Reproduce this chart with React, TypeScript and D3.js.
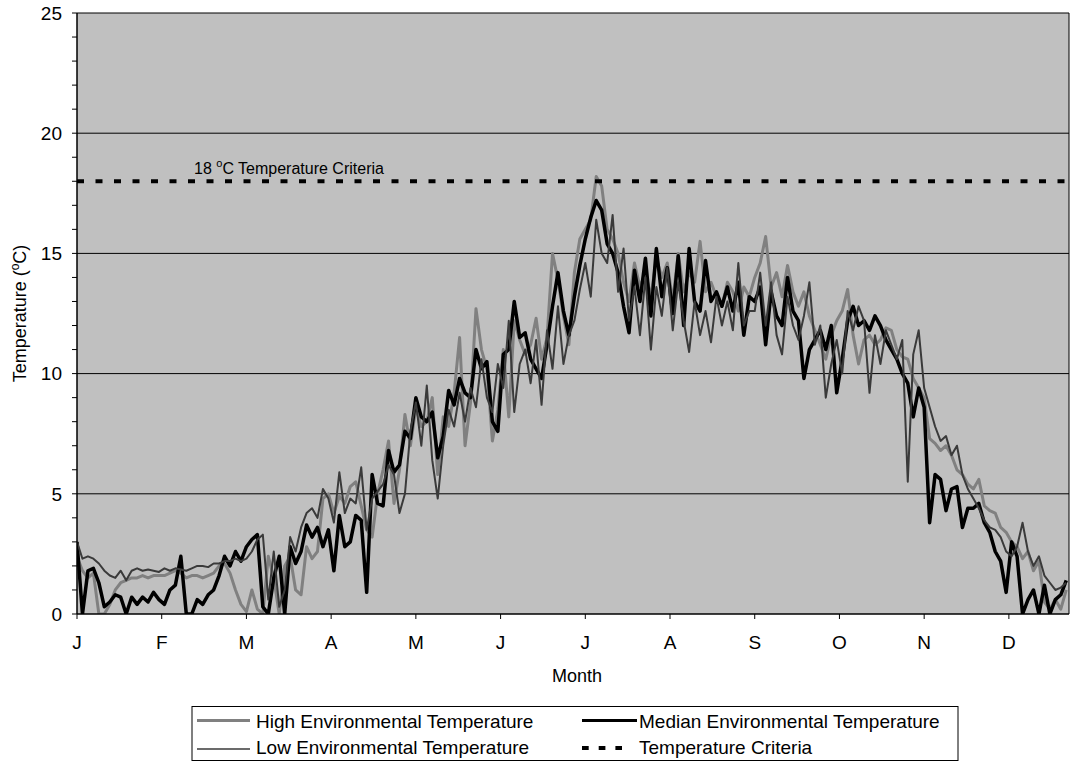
import React from "react";
import * as d3 from "d3";

// ---- Data (every 2nd day through the year) ----
const months = ["J", "F", "M", "A", "M", "J", "J", "A", "S", "O", "N", "D"];
const monthStartDays = [0, 31, 62, 93, 124, 155, 186, 217, 248, 279, 310, 341];
const yMajorTicks = [0, 5, 10, 15, 20, 25];
const yGridValues = [5, 10, 15, 20];
const criteriaValue = 18;
const stepDays = 2;

const highTemp = [
  2.4, 1.8, 1.5, 1.7, 0.0, 0.0, 0.4, 1.0, 1.3, 1.4, 1.5, 1.5, 1.6, 1.5, 1.6, 1.6,
  1.6, 1.7, 1.8, 1.7, 1.5, 1.6, 1.6, 1.5, 1.6, 1.7, 2.0, 2.1, 1.7, 1.0, 0.4,
  0.1, 1.0, 0.2, 0.0, 2.4, 1.5, 0.0, 2.0, 2.4, 1.0, 0.8, 2.8, 2.3, 2.6, 4.8, 5.0,
  4.2, 4.9, 4.6, 5.3, 5.5, 4.5, 3.5, 3.2, 5.0, 6.0, 7.2, 4.6, 6.0, 8.3, 7.0, 8.6,
  7.8, 8.0, 9.0, 5.8, 8.2, 7.8, 9.2, 11.5, 7.0, 8.8, 12.7, 11.0, 10.2, 7.2, 8.5, 11.0,
  8.2, 12.2, 11.4, 10.8, 11.2, 12.3, 10.6, 11.5, 15.0, 13.9, 12.4, 11.2, 14.2, 15.6, 16.0,
  16.4, 18.2, 17.8, 16.0, 15.6, 15.0, 13.8, 13.0, 14.6, 13.6, 14.2, 13.2, 14.8, 14.0, 14.6,
  13.0, 15.0, 13.4, 14.2, 13.8, 15.5, 13.4, 13.8, 13.2, 12.8, 13.8, 13.4, 12.6, 13.6, 13.2, 14.0,
  14.6, 15.7, 13.6, 14.2, 13.2, 14.5, 13.4, 12.8, 13.4, 12.4, 11.8, 11.2, 10.6, 11.6, 12.2, 12.6,
  13.5, 11.6, 10.4, 11.4, 11.6, 11.2, 11.4, 11.9, 11.8, 11.0, 10.7, 10.6, 9.8, 9.4, 9.0, 7.3,
  7.1, 6.8, 7.0, 6.6, 6.0, 5.8, 5.4, 5.2, 5.6, 4.5, 4.3, 4.2, 3.6, 3.4, 3.0, 2.8,
  2.3, 2.6, 1.8, 2.2, 0.5, 0.2, 0.6, 0.2, 1.0,
];

const medianTemp = [
  3.0, 0.0, 1.8, 1.9, 1.3, 0.3, 0.5, 0.8, 0.7, 0.0, 0.7, 0.4, 0.7, 0.5, 0.9, 0.6,
  0.4, 1.0, 1.2, 2.4, 0.0, 0.0, 0.6, 0.4, 0.8, 1.0, 1.6, 2.4, 2.0, 2.6, 2.2,
  2.8, 3.1, 3.3, 0.3, 0.0, 1.5, 2.4, 0.0, 2.8, 2.1, 2.6, 3.7, 3.2, 3.6, 2.8, 3.5,
  1.8, 4.1, 2.8, 3.0, 4.1, 3.9, 0.9, 5.8, 4.6, 4.5, 6.8, 5.9, 6.2, 7.6, 7.3, 9.0,
  8.2, 8.0, 8.4, 6.5, 7.4, 9.3, 8.7, 9.8, 9.2, 9.0, 11.0, 10.2, 10.5, 8.0, 7.6, 10.8,
  11.0, 13.0, 11.5, 11.7, 10.6, 10.2, 9.8, 11.2, 12.8, 14.2, 12.6, 11.6, 13.2, 14.5, 15.6,
  16.5, 17.2, 16.8, 15.4, 15.0, 14.2, 12.8, 11.7, 14.3, 13.0, 14.8, 12.4, 15.2, 13.2, 14.4,
  12.5, 14.9, 12.0, 15.2, 13.0, 12.6, 14.7, 13.0, 13.4, 12.8, 13.6, 12.6, 13.8, 11.6, 13.2, 13.0,
  13.6, 11.2, 13.4, 12.4, 12.0, 14.0, 12.6, 12.2, 9.8, 11.0, 11.4, 11.8, 11.0, 12.0, 9.2, 10.6,
  12.2, 12.8, 12.0, 12.2, 11.8, 12.4, 12.0, 11.4, 11.0, 10.6, 10.0, 9.6, 8.2, 9.4, 8.6, 3.8,
  5.8, 5.6, 4.3, 5.2, 5.3, 3.6, 4.4, 4.4, 4.6, 3.8, 3.4, 2.6, 2.2, 0.9, 3.0, 2.4,
  0.0, 0.6, 1.0, 0.0, 1.2, 0.0, 0.6, 0.8, 1.4,
];

const lowTemp = [
  3.0, 2.3, 2.4, 2.3, 2.1, 1.8, 1.6, 1.5, 1.8, 1.4, 1.8, 1.9, 1.8, 1.85, 1.8, 1.75,
  1.9, 1.8, 1.9, 1.85, 1.8, 1.9, 2.0, 2.0, 1.95, 2.1, 2.1, 2.2, 2.2, 2.3, 2.2,
  2.3, 2.6, 3.1, 3.3, 0.6, 2.6, 0.3, 1.0, 3.2, 2.6, 3.6, 4.2, 4.4, 4.0, 5.2, 4.8,
  3.8, 5.9, 4.2, 4.8, 4.6, 6.1, 3.5, 4.8, 5.1, 5.4, 6.2, 5.8, 4.2, 5.0, 7.6, 8.8,
  7.0, 9.5, 6.4, 4.8, 7.0, 8.5, 7.8, 9.2, 8.0, 9.4, 8.6, 10.6, 9.0, 8.4, 10.4, 9.4,
  12.2, 8.4, 10.4, 11.0, 9.6, 11.4, 8.7, 11.8, 10.2, 12.8, 10.4, 11.6, 12.2, 13.5, 14.6,
  13.2, 16.4, 15.0, 14.6, 16.6, 13.4, 15.2, 12.2, 13.6, 11.6, 14.0, 11.0, 13.6, 12.4, 14.4,
  11.8, 13.8, 12.2, 10.9, 13.0, 11.6, 12.6, 11.3, 13.2, 12.0, 13.0, 11.8, 14.6, 12.0, 12.6, 12.6,
  14.2, 12.0, 13.8, 11.6, 10.8, 13.2, 12.0, 11.4, 12.4, 13.8, 11.2, 12.0, 9.0, 10.4, 11.4, 10.0,
  12.6, 11.8, 12.8, 12.2, 9.2, 11.6, 10.4, 11.8, 11.2, 10.6, 11.4, 5.5, 10.8, 11.8, 9.4, 8.6,
  7.8, 7.2, 7.4, 6.6, 7.0, 5.8, 5.2, 4.8, 4.4, 3.9, 3.6, 3.5, 3.2, 2.6, 2.4, 2.8,
  3.8, 2.6, 2.0, 2.4, 1.6, 1.3, 1.0, 1.1, 1.3,
];

const FONT = "'Liberation Sans', Arial, Helvetica, sans-serif";

export default function App() {
  const W = 1070;
  const H = 763;
  const pl = 77, pr = 1069, pt = 13, pb = 614;

  const x = d3.scaleLinear().domain([0, 363]).range([pl, pr]);
  const y = d3.scaleLinear().domain([0, 25]).range([pb, pt]);

  const line = d3
    .line<number>()
    .x((_, i) => x(i * stepDays))
    .y((d) => y(d));

  const minorTicks = d3.range(0, 26);

  return (
    <div style={{ position: "absolute", left: 0, top: 0 }}>
      <svg width={W} height={H} style={{ display: "block", background: "#fff" }} fontFamily={FONT}>
        <defs>
          <clipPath id="plotClip">
            <rect x={pl} y={pt} width={pr - pl} height={pb - pt} />
          </clipPath>
        </defs>
        {/* plot background */}
        <rect x={pl} y={pt} width={pr - pl} height={pb - pt} fill="#C0C0C0" />
        {/* gridlines */}
        {yGridValues.map((v) => (
          <line key={"g" + v} x1={pl} x2={pr} y1={y(v)} y2={y(v)} stroke="#000" strokeWidth={1} />
        ))}
        {/* series */}
        <g clipPath="url(#plotClip)" fill="none" strokeLinejoin="round">
          <path d={line(highTemp) || ""} stroke="#808080" strokeWidth={3} />
          <path d={line(medianTemp) || ""} stroke="#000" strokeWidth={3.5} />
          <path d={line(lowTemp) || ""} stroke="#3a3a3a" strokeWidth={2} />
        </g>
        {/* criteria line */}
        <line
          x1={pl}
          x2={pr}
          y1={y(criteriaValue)}
          y2={y(criteriaValue)}
          stroke="#000"
          strokeWidth={4}
          strokeDasharray="7 11.5"
        />
        <text x={194} y={174} fontSize={16} fill="#000">
          18 <tspan fontSize={11} dy={-7}>o</tspan>
          <tspan dy={7}>C Temperature Criteria</tspan>
        </text>
        {/* frame */}
        <line x1={pl} x2={pr} y1={pt} y2={pt} stroke="#000" strokeWidth={1} />
        <line x1={pr} x2={pr} y1={pt} y2={pb} stroke="#000" strokeWidth={1} />
        <line x1={pl} x2={pl} y1={pt} y2={pb} stroke="#000" strokeWidth={1.5} />
        <line x1={pl} x2={pr} y1={pb} y2={pb} stroke="#000" strokeWidth={1.5} />
        {/* y ticks */}
        {minorTicks.map((v) => (
          <line key={"yt" + v} x1={pl - 5} x2={pl} y1={y(v)} y2={y(v)} stroke="#000" strokeWidth={1} />
        ))}
        {yMajorTicks.map((v) => (
          <text key={"yl" + v} x={62} y={y(v)} dy="0.36em" textAnchor="end" fontSize={19} fill="#000">
            {v}
          </text>
        ))}
        {/* x ticks */}
        {monthStartDays.map((d, i) => (
          <g key={"xt" + i}>
            <line x1={x(d)} x2={x(d)} y1={pb} y2={pb + 5} stroke="#000" strokeWidth={1} />
            <text x={x(d)} y={649} textAnchor="middle" fontSize={19} fill="#000">
              {months[i]}
            </text>
          </g>
        ))}
        {/* axis titles */}
        <text x={(pl + pr) / 2 + 4} y={682} textAnchor="middle" fontSize={18} fill="#000">
          Month
        </text>
        <text
          transform={`translate(25.5, ${(pt + pb) / 2}) rotate(-90)`}
          textAnchor="middle"
          fontSize={18}
          fill="#000"
        >
          Temperature (<tspan fontSize={12} dy={-7}>o</tspan>
          <tspan dy={7}>C)</tspan>
        </text>
        {/* legend */}
        <rect x={192} y={706.5} width={766} height={54} fill="#fff" stroke="#000" strokeWidth={1} />
        <line x1={197} x2={250} y1={720.5} y2={720.5} stroke="#808080" strokeWidth={3} />
        <text x={256} y={727.5} fontSize={19} fill="#000">High Environmental Temperature</text>
        <line x1={582} x2={637} y1={720.5} y2={720.5} stroke="#000" strokeWidth={3} />
        <text x={639} y={727.5} fontSize={19} fill="#000">Median Environmental Temperature</text>
        <line x1={197} x2={250} y1={749} y2={749} stroke="#3a3a3a" strokeWidth={1.5} />
        <text x={256} y={754} fontSize={19} fill="#000">Low Environmental Temperature</text>
        <line x1={582} x2={622} y1={748} y2={748} stroke="#000" strokeWidth={4} strokeDasharray="6.7 10" />
        <text x={639} y={754} fontSize={19} fill="#000">Temperature Criteria</text>
      </svg>
    </div>
  );
}
